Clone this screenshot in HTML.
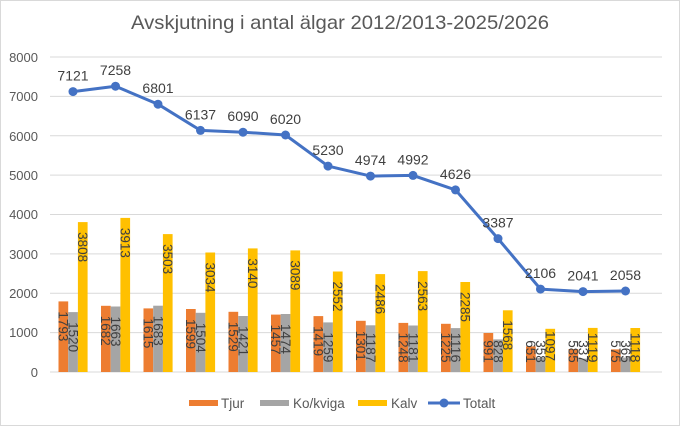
<!DOCTYPE html>
<html><head><meta charset="utf-8"><style>
html,body{margin:0;padding:0;background:#fff}
svg{display:block;font-family:"Liberation Sans",sans-serif}
.g{stroke:#d9d9d9;stroke-width:1}
.yl{font-size:13px;fill:#595959;text-anchor:end}
.bl{font-size:13.5px;fill:#404040}
.tl{font-size:14px;fill:#404040;text-anchor:middle}
</style></head><body>
<svg width="680" height="426" viewBox="0 0 680 426" xmlns="http://www.w3.org/2000/svg">
<rect x="0.5" y="0.5" width="679" height="425" fill="#fff" stroke="#d9d9d9"/>
<text x="340" y="29" font-size="19.5" fill="#595959" text-anchor="middle" textLength="418" lengthAdjust="spacingAndGlyphs">Avskjutning i antal älgar 2012/2013-2025/2026</text>
<g>
<line class="g" x1="50" x2="662" y1="57" y2="57"/>
<line class="g" x1="50" x2="662" y1="96.4" y2="96.4"/>
<line class="g" x1="50" x2="662" y1="135.8" y2="135.8"/>
<line class="g" x1="50" x2="662" y1="175.1" y2="175.1"/>
<line class="g" x1="50" x2="662" y1="214.5" y2="214.5"/>
<line class="g" x1="50" x2="662" y1="253.9" y2="253.9"/>
<line class="g" x1="50" x2="662" y1="293.3" y2="293.3"/>
<line class="g" x1="50" x2="662" y1="332.6" y2="332.6"/>
<line class="g" x1="50" x2="662" y1="372" y2="372"/>
</g>
<g class="yl">
<text x="38" y="62">8000</text><text x="38" y="101">7000</text><text x="38" y="141">6000</text><text x="38" y="180">5000</text><text x="38" y="219">4000</text><text x="38" y="259">3000</text><text x="38" y="298">2000</text><text x="38" y="337">1000</text><text x="38" y="377">0</text>
</g>
<g>
<!-- Tjur -->
<g fill="#ed7d31">
<rect x="58.5" y="301.4" width="9.7" height="70.6"/>
<rect x="101" y="305.8" width="9.7" height="66.2"/>
<rect x="143.5" y="308.4" width="9.7" height="63.6"/>
<rect x="186" y="309" width="9.7" height="63"/>
<rect x="228.5" y="311.8" width="9.7" height="60.2"/>
<rect x="271" y="314.6" width="9.7" height="57.4"/>
<rect x="313.5" y="316.1" width="9.7" height="55.9"/>
<rect x="356" y="320.8" width="9.7" height="51.2"/>
<rect x="398.5" y="322.9" width="9.7" height="49.1"/>
<rect x="441" y="323.8" width="9.7" height="48.2"/>
<rect x="483.5" y="333" width="9.7" height="39"/>
<rect x="526" y="346.4" width="9.7" height="25.6"/>
<rect x="568.5" y="349" width="9.7" height="23"/>
<rect x="611" y="349.4" width="9.7" height="22.6"/>
</g>
<!-- Ko/kviga -->
<g fill="#a5a5a5">
<rect x="68.2" y="312.1" width="9.7" height="59.9"/>
<rect x="110.7" y="306.5" width="9.7" height="65.5"/>
<rect x="153.2" y="305.7" width="9.7" height="66.3"/>
<rect x="195.7" y="312.8" width="9.7" height="59.2"/>
<rect x="238.2" y="316" width="9.7" height="56"/>
<rect x="280.7" y="314" width="9.7" height="58"/>
<rect x="323.2" y="322.4" width="9.7" height="49.6"/>
<rect x="365.7" y="325.3" width="9.7" height="46.7"/>
<rect x="408.2" y="325.5" width="9.7" height="46.5"/>
<rect x="450.7" y="328.1" width="9.7" height="43.9"/>
<rect x="493.2" y="339.4" width="9.7" height="32.6"/>
<rect x="535.7" y="357.9" width="9.7" height="14.1"/>
<rect x="578.2" y="358.7" width="9.7" height="13.3"/>
<rect x="620.7" y="357.6" width="9.7" height="14.4"/>
</g>
<!-- Kalv -->
<g fill="#ffc000">
<rect x="77.9" y="222.1" width="9.7" height="149.9"/>
<rect x="120.4" y="217.9" width="9.7" height="154.1"/>
<rect x="162.9" y="234.1" width="9.7" height="137.9"/>
<rect x="205.4" y="252.5" width="9.7" height="119.5"/>
<rect x="247.9" y="248.4" width="9.7" height="123.6"/>
<rect x="290.4" y="250.4" width="9.7" height="121.6"/>
<rect x="332.9" y="271.5" width="9.7" height="100.5"/>
<rect x="375.4" y="274.1" width="9.7" height="97.9"/>
<rect x="417.9" y="271.1" width="9.7" height="100.9"/>
<rect x="460.4" y="282" width="9.7" height="90"/>
<rect x="502.9" y="310.3" width="9.7" height="61.7"/>
<rect x="545.4" y="328.8" width="9.7" height="43.2"/>
<rect x="587.9" y="327.9" width="9.7" height="44.1"/>
<rect x="630.4" y="328" width="9.7" height="44"/>
</g>
</g>
<g class="bl">
<text transform="translate(63.3,311.4) rotate(90)" dy="0.35em" textLength="30" lengthAdjust="spacingAndGlyphs">1793</text>
<text transform="translate(73,322.1) rotate(90)" dy="0.35em" textLength="30" lengthAdjust="spacingAndGlyphs">1520</text>
<text transform="translate(82.8,232.1) rotate(90)" dy="0.35em" textLength="30" lengthAdjust="spacingAndGlyphs">3808</text>
<text transform="translate(105.8,315.8) rotate(90)" dy="0.35em" textLength="30" lengthAdjust="spacingAndGlyphs">1682</text>
<text transform="translate(115.5,316.5) rotate(90)" dy="0.35em" textLength="30" lengthAdjust="spacingAndGlyphs">1663</text>
<text transform="translate(125.3,227.9) rotate(90)" dy="0.35em" textLength="30" lengthAdjust="spacingAndGlyphs">3913</text>
<text transform="translate(148.3,318.4) rotate(90)" dy="0.35em" textLength="30" lengthAdjust="spacingAndGlyphs">1615</text>
<text transform="translate(158,315.7) rotate(90)" dy="0.35em" textLength="30" lengthAdjust="spacingAndGlyphs">1683</text>
<text transform="translate(167.8,244.1) rotate(90)" dy="0.35em" textLength="30" lengthAdjust="spacingAndGlyphs">3503</text>
<text transform="translate(190.8,319) rotate(90)" dy="0.35em" textLength="30" lengthAdjust="spacingAndGlyphs">1599</text>
<text transform="translate(200.5,322.8) rotate(90)" dy="0.35em" textLength="30" lengthAdjust="spacingAndGlyphs">1504</text>
<text transform="translate(210.3,262.5) rotate(90)" dy="0.35em" textLength="30" lengthAdjust="spacingAndGlyphs">3034</text>
<text transform="translate(233.3,321.8) rotate(90)" dy="0.35em" textLength="30" lengthAdjust="spacingAndGlyphs">1529</text>
<text transform="translate(243,326) rotate(90)" dy="0.35em" textLength="30" lengthAdjust="spacingAndGlyphs">1421</text>
<text transform="translate(252.8,258.4) rotate(90)" dy="0.35em" textLength="30" lengthAdjust="spacingAndGlyphs">3140</text>
<text transform="translate(275.8,324.6) rotate(90)" dy="0.35em" textLength="30" lengthAdjust="spacingAndGlyphs">1457</text>
<text transform="translate(285.5,324) rotate(90)" dy="0.35em" textLength="30" lengthAdjust="spacingAndGlyphs">1474</text>
<text transform="translate(295.3,260.4) rotate(90)" dy="0.35em" textLength="30" lengthAdjust="spacingAndGlyphs">3089</text>
<text transform="translate(318.3,326.1) rotate(90)" dy="0.35em" textLength="30" lengthAdjust="spacingAndGlyphs">1419</text>
<text transform="translate(328,332.4) rotate(90)" dy="0.35em" textLength="30" lengthAdjust="spacingAndGlyphs">1259</text>
<text transform="translate(337.8,281.5) rotate(90)" dy="0.35em" textLength="30" lengthAdjust="spacingAndGlyphs">2552</text>
<text transform="translate(360.8,330.8) rotate(90)" dy="0.35em" textLength="30" lengthAdjust="spacingAndGlyphs">1301</text>
<text transform="translate(370.5,332.6) rotate(90)" dy="0.35em" textLength="30" lengthAdjust="spacingAndGlyphs">1187</text>
<text transform="translate(380.3,284.1) rotate(90)" dy="0.35em" textLength="30" lengthAdjust="spacingAndGlyphs">2486</text>
<text transform="translate(403.3,332.6) rotate(90)" dy="0.35em" textLength="30" lengthAdjust="spacingAndGlyphs">1248</text>
<text transform="translate(413,332.6) rotate(90)" dy="0.35em" textLength="30" lengthAdjust="spacingAndGlyphs">1181</text>
<text transform="translate(422.8,281.1) rotate(90)" dy="0.35em" textLength="30" lengthAdjust="spacingAndGlyphs">2563</text>
<text transform="translate(445.8,332.6) rotate(90)" dy="0.35em" textLength="30" lengthAdjust="spacingAndGlyphs">1225</text>
<text transform="translate(455.5,332.6) rotate(90)" dy="0.35em" textLength="30" lengthAdjust="spacingAndGlyphs">1116</text>
<text transform="translate(465.3,292) rotate(90)" dy="0.35em" textLength="30" lengthAdjust="spacingAndGlyphs">2285</text>
<text transform="translate(488.3,340.2) rotate(90)" dy="0.35em" textLength="22.5" lengthAdjust="spacingAndGlyphs">991</text>
<text transform="translate(498,340.2) rotate(90)" dy="0.35em" textLength="22.5" lengthAdjust="spacingAndGlyphs">828</text>
<text transform="translate(507.8,320.3) rotate(90)" dy="0.35em" textLength="30" lengthAdjust="spacingAndGlyphs">1568</text>
<text transform="translate(530.8,340.2) rotate(90)" dy="0.35em" textLength="22.5" lengthAdjust="spacingAndGlyphs">651</text>
<text transform="translate(540.5,340.2) rotate(90)" dy="0.35em" textLength="22.5" lengthAdjust="spacingAndGlyphs">358</text>
<text transform="translate(550.3,331) rotate(90)" dy="0.35em" textLength="30" lengthAdjust="spacingAndGlyphs">1097</text>
<text transform="translate(573.3,340.2) rotate(90)" dy="0.35em" textLength="22.5" lengthAdjust="spacingAndGlyphs">585</text>
<text transform="translate(583,340.2) rotate(90)" dy="0.35em" textLength="22.5" lengthAdjust="spacingAndGlyphs">337</text>
<text transform="translate(592.8,332.6) rotate(90)" dy="0.35em" textLength="30" lengthAdjust="spacingAndGlyphs">1119</text>
<text transform="translate(615.8,340.2) rotate(90)" dy="0.35em" textLength="22.5" lengthAdjust="spacingAndGlyphs">575</text>
<text transform="translate(625.5,340.2) rotate(90)" dy="0.35em" textLength="22.5" lengthAdjust="spacingAndGlyphs">365</text>
<text transform="translate(635.3,332.6) rotate(90)" dy="0.35em" textLength="30" lengthAdjust="spacingAndGlyphs">1118</text>
</g>
<polyline fill="none" stroke="#4472c4" stroke-width="3" stroke-linejoin="round" points="73,91.6 115.5,86.2 158,104.2 200.5,130.4 243,132.2 285.5,135 328,166.1 370.5,176.1 413,175.4 455.5,189.9 498,238.6 540.5,289.1 583,291.6 625.5,291"/>
<g fill="#4472c4">
<circle cx="73" cy="91.6" r="4.5"/><circle cx="115.5" cy="86.2" r="4.5"/><circle cx="158" cy="104.2" r="4.5"/><circle cx="200.5" cy="130.4" r="4.5"/><circle cx="243" cy="132.2" r="4.5"/><circle cx="285.5" cy="135" r="4.5"/><circle cx="328" cy="166.1" r="4.5"/><circle cx="370.5" cy="176.1" r="4.5"/><circle cx="413" cy="175.4" r="4.5"/><circle cx="455.5" cy="189.9" r="4.5"/><circle cx="498" cy="238.6" r="4.5"/><circle cx="540.5" cy="289.1" r="4.5"/><circle cx="583" cy="291.6" r="4.5"/><circle cx="625.5" cy="291" r="4.5"/>
</g>
<g class="tl">
<text x="73" y="80.6">7121</text><text x="115.5" y="75.2">7258</text><text x="158" y="93.2">6801</text><text x="200.5" y="119.4">6137</text><text x="243" y="121.2">6090</text><text x="285.5" y="124">6020</text><text x="328" y="155.1">5230</text><text x="370.5" y="165.1">4974</text><text x="413" y="164.4">4992</text><text x="455.5" y="178.9">4626</text><text x="498" y="227.6">3387</text><text x="540.5" y="278.1">2106</text><text x="583" y="280.6">2041</text><text x="625.5" y="280">2058</text>
</g>
<g font-size="13.5" fill="#595959">
<rect x="189" y="400" width="29" height="6" fill="#ed7d31"/><text x="221" y="408">Tjur</text>
<rect x="260" y="400" width="29" height="6" fill="#a5a5a5"/><text x="293" y="408">Ko/kviga</text>
<rect x="358" y="400" width="29" height="6" fill="#ffc000"/><text x="391" y="408">Kalv</text>
<line x1="428" x2="460" y1="403" y2="403" stroke="#4472c4" stroke-width="3"/><circle cx="444" cy="403" r="4.5" fill="#4472c4"/><text x="463" y="408">Totalt</text>
</g>
</svg>
</body></html>
